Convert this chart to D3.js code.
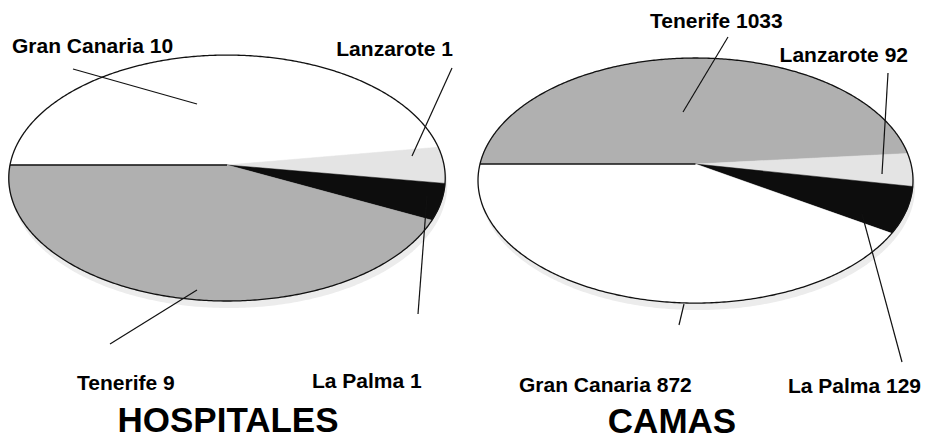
<!DOCTYPE html>
<html>
<head>
<meta charset="utf-8">
<title>Hospitales y camas</title>
<script src="https://cdn.jsdelivr.net/npm/d3@7/dist/d3.min.js"></script>
<style>
    body { margin: 0; background: #fff; }
    svg text { font-family: "Liberation Sans", Arial, sans-serif; font-weight: bold; fill: #000; }
</style>
</head>
<body>
<svg id="chart" width="929" height="439"></svg>
<script>
// data
const hospitalIslands = ["Gran Canaria", "Lanzarote", "La Palma", "Tenerife"];
const hospitalValues = [10, 1, 1, 9];
const bedIslands = ["Tenerife", "Lanzarote", "La Palma", "Gran Canaria"];
const bedValues = [1033, 92, 129, 872];
const titles = ["HOSPITALES", "CAMAS"];

const svg = d3.select("#chart");

const color = d3.scaleOrdinal()
    .domain(["Gran Canaria", "Tenerife", "Lanzarote", "La Palma"])
    .range(["#ffffff", "#b0b0b0", "#e4e4e4", "#0d0d0d"]);

// pie geometry (tilted, slight perspective)
const pies = [
    { cx: 227, cy: 165, R: 217, H: 121.6, p: 0.106,
      labels: {
          "Gran Canaria": { x: 12, y: 53, anchor: "start", line: [[73, 69], [197, 104]] },
          "Lanzarote": { x: 453, y: 56, anchor: "end", line: [[452, 68], [412, 156]] },
          "La Palma": { x: 312, y: 388, anchor: "start", line: [[427, 196], [418, 314]] },
          "Tenerife": { x: 77, y: 390, anchor: "start", line: [[197, 290], [110, 344]] }
      },
      title: { x: 228, y: 432 } },
    { cx: 695.5, cy: 164, R: 215.5, H: 120.3, p: 0.135,
      labels: {
          "Tenerife": { x: 650, y: 28, anchor: "start", line: [[728, 37], [683, 112]] },
          "Lanzarote": { x: 908, y: 62, anchor: "end", line: [[888, 73], [882, 174]] },
          "La Palma": { x: 921, y: 393, anchor: "end", line: [[862, 214], [902, 362]] },
          "Gran Canaria": { x: 519, y: 392, anchor: "start", line: [[684, 304], [679, 325]] }
      },
      title: { x: 672, y: 433 } }
];

function project(g, a, r) {
    const d = 1 + g.p * Math.cos(a) * r;
    return [g.cx + g.R * r * Math.sin(a) / d, g.cy - g.H * r * Math.cos(a) / d];
}

function arcPoints(g, a0, a1) {
    const n = Math.max(2, Math.ceil(Math.abs(a1 - a0) / 0.01));
    return d3.range(n + 1).map(i => project(g, a0 + (a1 - a0) * i / n, 1));
}

const line = d3.line();
const pie = d3.pie().sort(null).startAngle(-Math.PI / 2).endAngle(Math.PI * 1.5);

function drawPie(g, islands, values, title) {
    const grp = svg.append("g");
    const slices = pie(values);

    // faint rim under the disc
    const rim = arcPoints(g, 0, Math.PI * 2);
    grp.append("path")
        .attr("d", line(rim) + "Z")
        .attr("transform", "translate(2,7)")
        .attr("fill", "#ececec");

    grp.selectAll("path.slice")
        .data(slices)
        .enter()
        .append("path")
        .attr("class", "slice")
        .attr("d", d => line([[g.cx, g.cy]].concat(arcPoints(g, d.startAngle, d.endAngle))) + "Z")
        .attr("fill", (d, i) => color(islands[i]))
        .attr("stroke", (d, i) => color(islands[i]))
        .attr("stroke-width", 0.5);

    // start edge line (9 o'clock)
    grp.append("path")
        .attr("d", line([project(g, -Math.PI / 2, 1), [g.cx, g.cy]]))
        .attr("stroke", "#111")
        .attr("stroke-width", 1.5)
        .attr("fill", "none");

    grp.append("path")
        .attr("d", line(rim) + "Z")
        .attr("fill", "none")
        .attr("stroke", "#111")
        .attr("stroke-width", 1.3);

    islands.forEach((name, i) => {
        const lb = g.labels[name];
        grp.append("path")
            .attr("d", line(lb.line))
            .attr("stroke", "#111")
            .attr("stroke-width", 1.2)
            .attr("fill", "none");
        grp.append("text")
            .attr("x", lb.x)
            .attr("y", lb.y)
            .attr("text-anchor", lb.anchor)
            .style("font-size", "21px")
            .text(name + " " + values[i]);
    });

    grp.append("text")
        .attr("x", g.title.x)
        .attr("y", g.title.y)
        .attr("text-anchor", "middle")
        .style("font-size", "35px")
        .text(title);
}

drawPie(pies[0], hospitalIslands, hospitalValues, titles[0]);
drawPie(pies[1], bedIslands, bedValues, titles[1]);
</script>
</body>
</html>
